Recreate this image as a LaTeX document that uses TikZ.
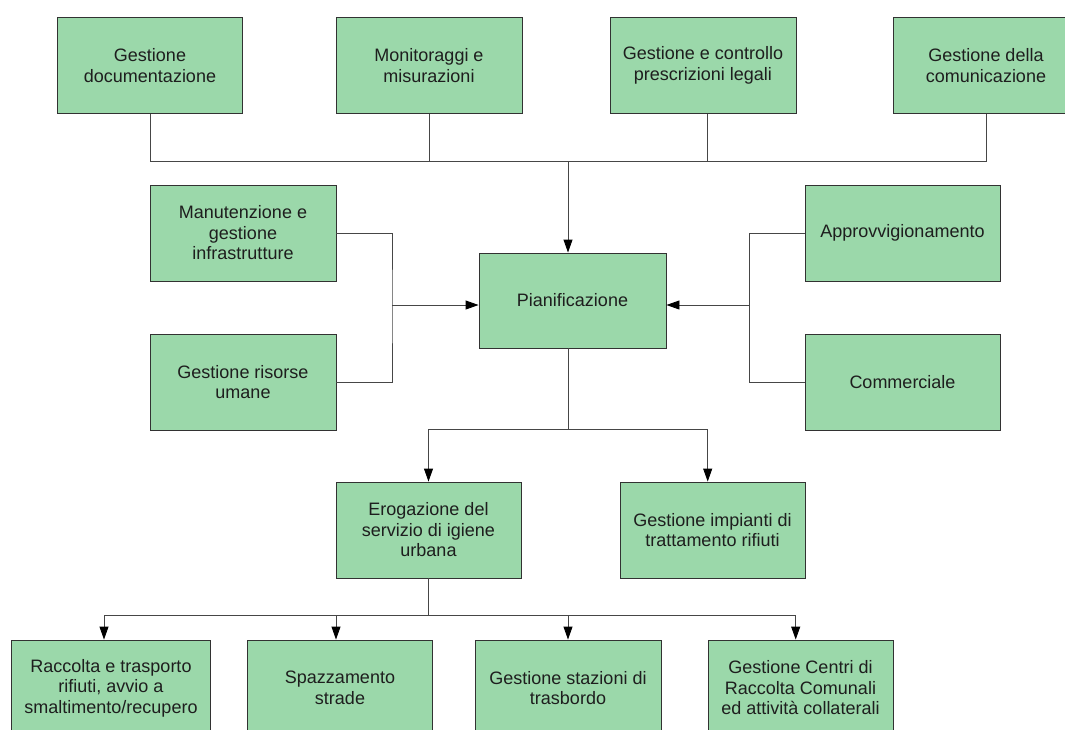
\documentclass[tikz,border=0pt]{standalone}
\usepackage{fontspec}
\setmainfont{Liberation Sans}
\usetikzlibrary{arrows.meta,calc}
\definecolor{boxgreen}{RGB}{155,216,170}
\definecolor{boxline}{RGB}{50,50,50}
\definecolor{connline}{RGB}{70,70,70}
\definecolor{txt}{RGB}{30,30,30}
\begin{document}
\begin{tikzpicture}[x=1pt,y=-1pt,
  box/.style={draw=boxline, fill=boxgreen, line width=0.9pt, minimum height=96pt,
    inner sep=0pt, align=center, text=txt, font=\fontsize{18}{20.5}\selectfont},
  conn/.style={draw=connline, line width=0.9pt},
  arr/.style={conn, -{Triangle[length=13pt,width=9pt,color=black]}}]
\useasboundingbox (0,0) rectangle (1065,729);
\clip (0,0) rectangle (1065,729);
\fill[white] (0,0) rectangle (1065,729);
% top row
\node[box, minimum width=185pt] (doc) at (150,65.5) {Gestione\\documentazione};
\node[box, minimum width=186pt] (mon) at (429,65.5) {Monitoraggi e\\misurazioni};
\node[box, minimum width=186pt] (leg) at (703,65.5) {Gestione e controllo\\prescrizioni legali};
\node[box, minimum width=186pt] (com) at (986,65.5) {Gestione della\\comunicazione};
% middle
\node[box, minimum width=186pt] (man) at (243,233) {Manutenzione e\\gestione\\infrastrutture};
\node[box, minimum width=186pt] (ris) at (243,382) {Gestione risorse\\umane};
\node[box, minimum width=187pt, minimum height=95pt] (pia) at (572.5,300.5) {Pianificazione};
\node[box, minimum width=195pt] (app) at (902.5,233) {Approvvigionamento};
\node[box, minimum width=195pt] (comm) at (902.5,382) {Commerciale};
% lower middle
\node[box, minimum width=185pt] (ero) at (428.5,530) {Erogazione del\\servizio di igiene\\urbana};
\node[box, minimum width=185pt] (imp) at (712.5,530) {Gestione impianti di\\trattamento rifiuti};
% bottom row
\node[box, minimum width=199pt] (rac) at (111,688) {Raccolta e trasporto\\rifiuti, avvio a\\smaltimento/recupero};
\node[box, minimum width=185pt] (spa) at (340,688) {Spazzamento\\strade};
\node[box, minimum width=186pt] (sta) at (568,688) {Gestione stazioni di\\trasbordo};
\node[box, minimum width=185pt] (cen) at (800.5,688) {Gestione Centri di\\Raccolta Comunali\\ed attività collaterali};
% junction coordinates
\coordinate (tb) at (568,161);
\coordinate (legx) at (707.7,161);
\coordinate (lj) at (392,305);
\coordinate (rj) at (749,305);
\coordinate (pb) at (568,429);
\coordinate (eb) at (428.5,615.7);
% top bus
\draw[conn] (doc.south) |- (com.south |- tb) -- (com.south);
\draw[conn] (mon.south) -- (mon.south |- tb);
\draw[conn] ([xshift=4.7pt]leg.south) -- (legx);
\draw[arr] (tb) -- (pia.north -| tb);
% left side
\draw[conn] (man.east) -| (lj) |- (ris.east);
\draw[arr] (lj) -- (pia.west |- lj);
% right side
\draw[conn] (app.west) -| (rj) |- (comm.west);
\draw[arr] (rj) -- (pia.east |- rj);
% planning to services
\draw[conn] ([xshift=-4.5pt]pia.south) -- (pb);
\draw[arr] (pb) -| (ero.north);
\draw[arr] (pb) -| ([xshift=-4.8pt]imp.north);
% services to bottom row
\draw[conn] (ero.south) -- (eb);
\draw[arr] (eb) -| ([xshift=-7pt]rac.north);
\draw[arr] (eb) -| ([xshift=-4pt]spa.north);
\draw[arr] (eb) -| (sta.north);
\draw[arr] (eb) -| ([xshift=-4.8pt]cen.north);
\end{tikzpicture}
\end{document}
